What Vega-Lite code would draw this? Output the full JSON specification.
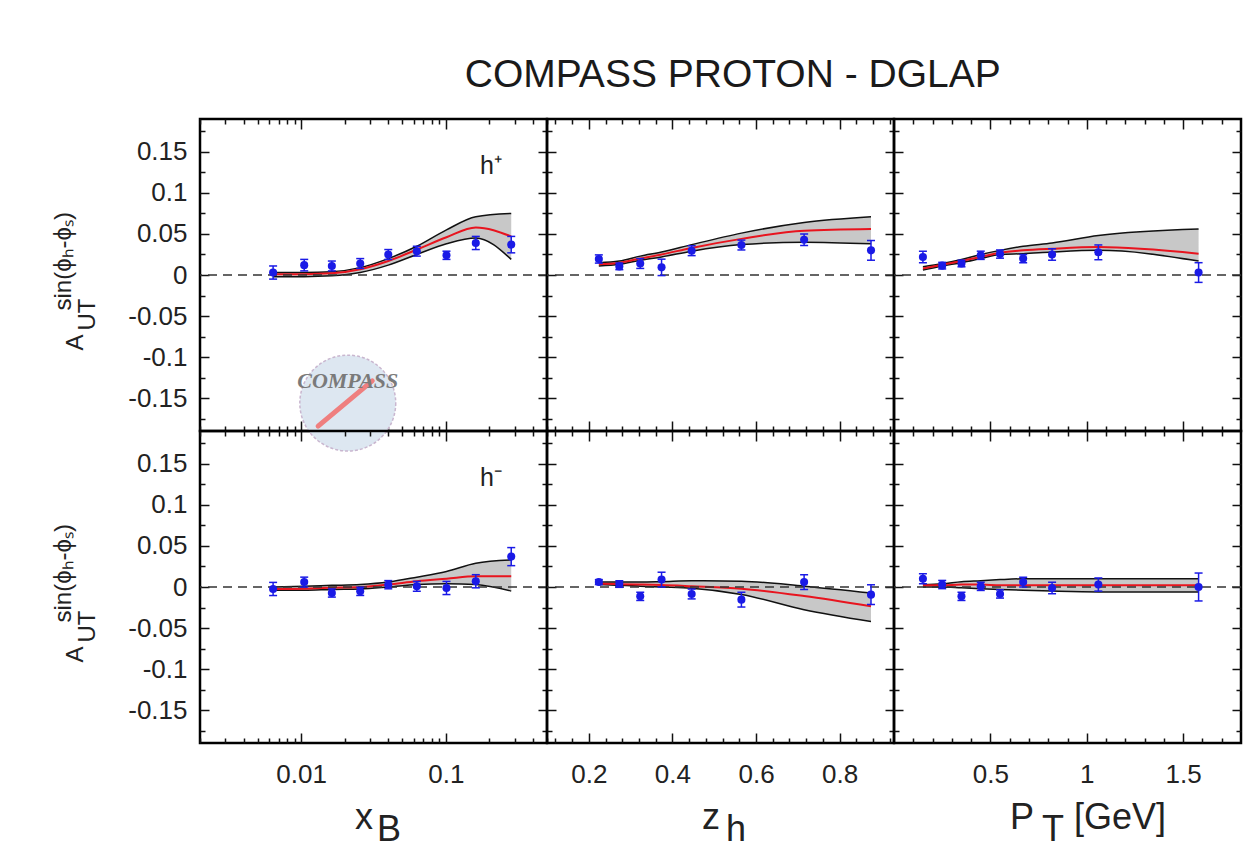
{
"$schema": "https://vega.github.io/schema/vega-lite/v6.json",
"background": "white",
"padding": {"left": 50, "top": 56, "right": 5, "bottom": 5},
"title": {"text": "COMPASS PROTON - DGLAP", "fontSize": 39, "font": "Liberation Sans", "fontWeight": "normal", "color": "#1a1a1a", "anchor": "middle", "offset": 22, "dx": 86},
"datasets": {
"th": [
{"p":1,"v":0.0064,"lo":-0.002,"m":0.001,"hi":0.003},
{"p":1,"v":0.0105,"lo":-0.002,"m":0.001,"hi":0.003},
{"p":1,"v":0.0163,"lo":-0.001,"m":0.002,"hi":0.004},
{"p":1,"v":0.0256,"lo":0.003,"m":0.007,"hi":0.009},
{"p":1,"v":0.040,"lo":0.012,"m":0.017,"hi":0.020},
{"p":1,"v":0.063,"lo":0.025,"m":0.031,"hi":0.035},
{"p":1,"v":0.101,"lo":0.038,"m":0.046,"hi":0.055},
{"p":1,"v":0.161,"lo":0.045,"m":0.058,"hi":0.071},
{"p":1,"v":0.283,"lo":0.019,"m":0.047,"hi":0.075},
{"p":2,"v":0.224,"lo":0.011,"m":0.013,"hi":0.015},
{"p":2,"v":0.273,"lo":0.013,"m":0.015,"hi":0.017},
{"p":2,"v":0.323,"lo":0.018,"m":0.020,"hi":0.023},
{"p":2,"v":0.374,"lo":0.022,"m":0.025,"hi":0.028},
{"p":2,"v":0.446,"lo":0.029,"m":0.033,"hi":0.037},
{"p":2,"v":0.565,"lo":0.037,"m":0.044,"hi":0.051},
{"p":2,"v":0.715,"lo":0.040,"m":0.054,"hi":0.064},
{"p":2,"v":0.875,"lo":0.038,"m":0.056,"hi":0.071},
{"p":3,"v":0.15,"lo":0.006,"m":0.008,"hi":0.010},
{"p":3,"v":0.25,"lo":0.011,"m":0.0126,"hi":0.014},
{"p":3,"v":0.35,"lo":0.015,"m":0.017,"hi":0.019},
{"p":3,"v":0.45,"lo":0.020,"m":0.022,"hi":0.025},
{"p":3,"v":0.55,"lo":0.025,"m":0.027,"hi":0.030},
{"p":3,"v":0.67,"lo":0.026,"m":0.030,"hi":0.035},
{"p":3,"v":0.82,"lo":0.028,"m":0.032,"hi":0.039},
{"p":3,"v":1.06,"lo":0.030,"m":0.034,"hi":0.048},
{"p":3,"v":1.58,"lo":0.017,"m":0.026,"hi":0.056},
{"p":4,"v":0.0064,"lo":-0.004,"m":-0.0024,"hi":0.000},
{"p":4,"v":0.0105,"lo":-0.004,"m":-0.002,"hi":0.001},
{"p":4,"v":0.0163,"lo":-0.003,"m":-0.001,"hi":0.002},
{"p":4,"v":0.0256,"lo":-0.0024,"m":0.000,"hi":0.003},
{"p":4,"v":0.040,"lo":0.000,"m":0.003,"hi":0.006},
{"p":4,"v":0.063,"lo":0.003,"m":0.007,"hi":0.012},
{"p":4,"v":0.101,"lo":0.004,"m":0.010,"hi":0.019},
{"p":4,"v":0.161,"lo":0.003,"m":0.013,"hi":0.029},
{"p":4,"v":0.283,"lo":-0.005,"m":0.013,"hi":0.033},
{"p":5,"v":0.224,"lo":0.003,"m":0.004,"hi":0.006},
{"p":5,"v":0.273,"lo":0.002,"m":0.0035,"hi":0.006},
{"p":5,"v":0.323,"lo":0.001,"m":0.003,"hi":0.006},
{"p":5,"v":0.374,"lo":0.000,"m":0.0025,"hi":0.0065},
{"p":5,"v":0.446,"lo":-0.0015,"m":0.001,"hi":0.0075},
{"p":5,"v":0.565,"lo":-0.009,"m":-0.002,"hi":0.007},
{"p":5,"v":0.715,"lo":-0.0276,"m":-0.011,"hi":0.001},
{"p":5,"v":0.875,"lo":-0.042,"m":-0.0235,"hi":-0.0073},
{"p":6,"v":0.15,"lo":0.000,"m":0.002,"hi":0.003},
{"p":6,"v":0.25,"lo":0.000,"m":0.002,"hi":0.004},
{"p":6,"v":0.35,"lo":-0.001,"m":0.003,"hi":0.0065},
{"p":6,"v":0.45,"lo":-0.002,"m":0.003,"hi":0.0077},
{"p":6,"v":0.55,"lo":-0.003,"m":0.002,"hi":0.009},
{"p":6,"v":0.67,"lo":-0.004,"m":0.002,"hi":0.010},
{"p":6,"v":0.82,"lo":-0.005,"m":0.002,"hi":0.010},
{"p":6,"v":1.06,"lo":-0.006,"m":0.002,"hi":0.010},
{"p":6,"v":1.58,"lo":-0.006,"m":0.002,"hi":0.010}
],
"pt": [
{"p":1,"v":0.0064,"a":0.003,"elo":-0.005,"ehi":0.011},
{"p":1,"v":0.0105,"a":0.012,"elo":0.005,"ehi":0.019},
{"p":1,"v":0.0163,"a":0.011,"elo":0.005,"ehi":0.017},
{"p":1,"v":0.0256,"a":0.014,"elo":0.008,"ehi":0.020},
{"p":1,"v":0.040,"a":0.025,"elo":0.019,"ehi":0.031},
{"p":1,"v":0.063,"a":0.029,"elo":0.023,"ehi":0.035},
{"p":1,"v":0.101,"a":0.024,"elo":0.019,"ehi":0.029},
{"p":1,"v":0.161,"a":0.039,"elo":0.031,"ehi":0.047},
{"p":1,"v":0.283,"a":0.037,"elo":0.027,"ehi":0.047},
{"p":2,"v":0.224,"a":0.0195,"elo":0.0145,"ehi":0.0245},
{"p":2,"v":0.273,"a":0.0105,"elo":0.0065,"ehi":0.0145},
{"p":2,"v":0.323,"a":0.014,"elo":0.008,"ehi":0.020},
{"p":2,"v":0.374,"a":0.0093,"elo":-0.0007,"ehi":0.0193},
{"p":2,"v":0.446,"a":0.0296,"elo":0.0236,"ehi":0.0356},
{"p":2,"v":0.565,"a":0.0365,"elo":0.0305,"ehi":0.0425},
{"p":2,"v":0.715,"a":0.043,"elo":0.036,"ehi":0.050},
{"p":2,"v":0.875,"a":0.030,"elo":0.018,"ehi":0.042},
{"p":3,"v":0.15,"a":0.022,"elo":0.015,"ehi":0.029},
{"p":3,"v":0.25,"a":0.0114,"elo":0.0074,"ehi":0.0154},
{"p":3,"v":0.35,"a":0.014,"elo":0.010,"ehi":0.018},
{"p":3,"v":0.45,"a":0.024,"elo":0.019,"ehi":0.029},
{"p":3,"v":0.55,"a":0.0255,"elo":0.0205,"ehi":0.0305},
{"p":3,"v":0.67,"a":0.020,"elo":0.015,"ehi":0.025},
{"p":3,"v":0.82,"a":0.025,"elo":0.018,"ehi":0.032},
{"p":3,"v":1.06,"a":0.0276,"elo":0.0186,"ehi":0.0366},
{"p":3,"v":1.58,"a":0.003,"elo":-0.009,"ehi":0.015},
{"p":4,"v":0.0064,"a":-0.0024,"elo":-0.0104,"ehi":0.0056},
{"p":4,"v":0.0105,"a":0.006,"elo":0.000,"ehi":0.012},
{"p":4,"v":0.0163,"a":-0.0073,"elo":-0.0123,"ehi":-0.0023},
{"p":4,"v":0.0256,"a":-0.0053,"elo":-0.0103,"ehi":-0.0003},
{"p":4,"v":0.040,"a":0.0028,"elo":-0.0022,"ehi":0.0078},
{"p":4,"v":0.063,"a":0.0008,"elo":-0.0052,"ehi":0.0068},
{"p":4,"v":0.101,"a":-0.0012,"elo":-0.0092,"ehi":0.0068},
{"p":4,"v":0.161,"a":0.007,"elo":-0.001,"ehi":0.015},
{"p":4,"v":0.283,"a":0.037,"elo":0.026,"ehi":0.048},
{"p":5,"v":0.224,"a":0.006,"elo":0.003,"ehi":0.009},
{"p":5,"v":0.273,"a":0.0036,"elo":-0.0004,"ehi":0.0076},
{"p":5,"v":0.323,"a":-0.0114,"elo":-0.0164,"ehi":-0.0064},
{"p":5,"v":0.374,"a":0.009,"elo":0.000,"ehi":0.018},
{"p":5,"v":0.446,"a":-0.0085,"elo":-0.0145,"ehi":-0.0025},
{"p":5,"v":0.565,"a":-0.0154,"elo":-0.0244,"ehi":-0.0064},
{"p":5,"v":0.715,"a":0.006,"elo":-0.003,"ehi":0.015},
{"p":5,"v":0.875,"a":-0.0093,"elo":-0.0213,"ehi":0.0027},
{"p":6,"v":0.15,"a":0.010,"elo":0.004,"ehi":0.016},
{"p":6,"v":0.25,"a":0.003,"elo":-0.002,"ehi":0.008},
{"p":6,"v":0.35,"a":-0.0114,"elo":-0.0164,"ehi":-0.0064},
{"p":6,"v":0.45,"a":0.0008,"elo":-0.0042,"ehi":0.0058},
{"p":6,"v":0.55,"a":-0.0085,"elo":-0.0135,"ehi":-0.0035},
{"p":6,"v":0.67,"a":0.006,"elo":0.000,"ehi":0.012},
{"p":6,"v":0.82,"a":-0.0012,"elo":-0.0082,"ehi":0.0058},
{"p":6,"v":1.06,"a":0.003,"elo":-0.005,"ehi":0.011},
{"p":6,"v":1.58,"a":0.000,"elo":-0.017,"ehi":0.017}
]
},
"columns": 3,
"spacing": 0,
"bounds": "flush",
"concat": [
{
"width": 347, "height": 312,
"resolve": {"axis": {"x": "independent", "y": "independent"}},
"layer": [
{"data": {"name": "th"}, "transform": [{"filter": "datum.p==1"}],
 "mark": {"type": "area", "color": "#c8c8c8", "opacity": 1, "interpolate": "monotone"},
 "encoding": {
  "x": {"field": "v", "type": "quantitative", "scale": {"type": "log", "domain": [0.002, 0.5], "nice": false},
        "axis": {"orient": "bottom", "values": [0.002,0.003,0.004,0.005,0.006,0.007,0.008,0.009,0.01,0.02,0.03,0.04,0.05,0.06,0.07,0.08,0.09,0.1,0.2,0.3,0.4,0.5], "tickSize": {"condition": {"test": "datum.value==0.01||datum.value==0.1", "value": -10}, "value": -5}, "labels": false, "title": null}},
  "y": {"field": "lo", "type": "quantitative", "scale": {"domain": [-0.19, 0.19], "nice": false, "zero": false},
        "axis": {"orient": "left", "values": [-0.175,-0.15,-0.125,-0.1,-0.075,-0.05,-0.025,0,0.025,0.05,0.075,0.1,0.125,0.15,0.175], "tickSize": {"condition": {"test": "abs(datum.value*20-round(datum.value*20))<0.001", "value": -9}, "value": -5}, "labelExpr": "abs(datum.value*20-round(datum.value*20))<0.001 ? replace(format(datum.value,'~g'),'\u2212','-') : ''", "labelPadding": 22, "title": ["\u200b\u00a0\u00a0\u00a0\u00a0\u00a0\u00a0sin(ϕₕ-ϕₛ)", "A", "\u200b\u00a0\u00a0\u00a0UT"], "titleFontSize": 24, "titleLineHeight": 12, "titleAlign": "left", "titleY": 231, "titlePadding": 28}},
  "y2": {"field": "hi"}}},
{"data": {"name": "th"}, "transform": [{"filter": "datum.p==1"}],
 "mark": {"type": "line", "color": "#111", "strokeWidth": 1.5, "interpolate": "monotone"},
 "encoding": {"x": {"field": "v", "type": "quantitative", "scale": {"type": "log", "domain": [0.002, 0.5], "nice": false}, "axis": null}, "y": {"field": "lo", "type": "quantitative", "axis": null}}},
{"data": {"name": "th"}, "transform": [{"filter": "datum.p==1"}],
 "mark": {"type": "line", "color": "#111", "strokeWidth": 1.5, "interpolate": "monotone"},
 "encoding": {"x": {"field": "v", "type": "quantitative", "scale": {"type": "log", "domain": [0.002, 0.5], "nice": false}, "axis": null}, "y": {"field": "hi", "type": "quantitative", "axis": null}}},
{"data": {"name": "th"}, "transform": [{"filter": "datum.p==1"}],
 "mark": {"type": "line", "color": "#e8141e", "strokeWidth": 2, "interpolate": "monotone"},
 "encoding": {"x": {"field": "v", "type": "quantitative", "scale": {"type": "log", "domain": [0.002, 0.5], "nice": false},
        "axis": {"orient": "top", "values": [0.002,0.003,0.004,0.005,0.006,0.007,0.008,0.009,0.01,0.02,0.03,0.04,0.05,0.06,0.07,0.08,0.09,0.1,0.2,0.3,0.4,0.5], "tickSize": {"condition": {"test": "datum.value==0.01||datum.value==0.1", "value": -10}, "value": -5}, "labels": false, "title": null}},
  "y": {"field": "m", "type": "quantitative", "axis": null}}},
{"data": {"values": [{}]},
 "mark": {"type": "rule", "color": "#333", "strokeDash": [9, 6], "strokeWidth": 1.5},
 "encoding": {"y": {"datum": 0, "type": "quantitative", "axis": {"orient": "right", "values": [-0.175,-0.15,-0.125,-0.1,-0.075,-0.05,-0.025,0,0.025,0.05,0.075,0.1,0.125,0.15,0.175], "tickSize": {"condition": {"test": "abs(datum.value*20-round(datum.value*20))<0.001", "value": -9}, "value": -5}, "labels": false, "title": null}}}},
{"data": {"name": "pt"}, "transform": [{"filter": "datum.p==1"}],
 "mark": {"type": "rule", "color": "#1a1ae6", "strokeWidth": 1.5},
 "encoding": {"x": {"field": "v", "type": "quantitative", "axis": null}, "y": {"field": "elo", "type": "quantitative", "axis": null}, "y2": {"field": "ehi"}}},
{"data": {"name": "pt"}, "transform": [{"filter": "datum.p==1"}],
 "mark": {"type": "tick", "orient": "horizontal", "size": 8, "thickness": 1.5, "color": "#1a1ae6", "opacity": 1},
 "encoding": {"x": {"field": "v", "type": "quantitative", "axis": null}, "y": {"field": "elo", "type": "quantitative", "axis": null}}},
{"data": {"name": "pt"}, "transform": [{"filter": "datum.p==1"}],
 "mark": {"type": "tick", "orient": "horizontal", "size": 8, "thickness": 1.5, "color": "#1a1ae6", "opacity": 1},
 "encoding": {"x": {"field": "v", "type": "quantitative", "axis": null}, "y": {"field": "ehi", "type": "quantitative", "axis": null}}},
{"data": {"name": "pt"}, "transform": [{"filter": "datum.p==1"}],
 "mark": {"type": "point", "filled": true, "size": 65, "color": "#1a1ae6", "opacity": 1},
 "encoding": {"x": {"field": "v", "type": "quantitative", "axis": null}, "y": {"field": "a", "type": "quantitative", "axis": null}}},
{"data": {"values": [{"t": "h⁺"}]},
 "mark": {"type": "text", "fontSize": 25, "font": "Liberation Sans", "color": "#222"},
 "encoding": {"text": {"field": "t"}, "x": {"datum": 0.205, "type": "quantitative", "axis": null}, "y": {"datum": 0.133, "type": "quantitative", "axis": null}}},
{"data": {"values": [{}]},
 "mark": {"type": "point", "shape": "circle", "size": 9200, "fill": "#dde7f1", "fillOpacity": 1, "stroke": "#c9b6cf", "strokeWidth": 1.5, "strokeDash": [3, 2], "opacity": 1},
 "encoding": {"x": {"datum": 0.021, "type": "quantitative", "axis": null}, "y": {"datum": -0.156, "type": "quantitative", "axis": null}}},
{"data": {"values": [{}]},
 "mark": {"type": "rule", "color": "#ef7f7f", "strokeWidth": 5, "strokeCap": "round"},
 "encoding": {"x": {"datum": 0.0131, "type": "quantitative", "axis": null}, "y": {"datum": -0.184, "type": "quantitative", "axis": null}, "x2": {"datum": 0.031}, "y2": {"datum": -0.129}}},
{"data": {"values": [{"t": "COMPASS"}]},
 "mark": {"type": "text", "fontSize": 22, "font": "Liberation Serif", "fontStyle": "italic", "fontWeight": "bold", "color": "#7a7a7a"},
 "encoding": {"text": {"field": "t"}, "x": {"datum": 0.021, "type": "quantitative", "axis": null}, "y": {"datum": -0.129, "type": "quantitative", "axis": null}}}
]
},
{
"width": 347, "height": 312,
"resolve": {"axis": {"x": "independent", "y": "independent"}},
"layer": [
{"data": {"name": "th"}, "transform": [{"filter": "datum.p==2"}],
 "mark": {"type": "area", "color": "#c8c8c8", "opacity": 1, "interpolate": "monotone"},
 "encoding": {
  "x": {"field": "v", "type": "quantitative", "scale": {"domain": [0.1, 0.93], "nice": false, "zero": false},
        "axis": {"orient": "bottom", "values": [0.12,0.16,0.2,0.24,0.28,0.32,0.36,0.4,0.44,0.48,0.52,0.56,0.6,0.64,0.68,0.72,0.76,0.8,0.84,0.88,0.92], "tickSize": {"condition": {"test": "indexof([0.2,0.4,0.6,0.8],datum.value)>=0", "value": -10}, "value": -5}, "labels": false, "title": null}},
  "y": {"field": "lo", "type": "quantitative", "scale": {"domain": [-0.19, 0.19], "nice": false, "zero": false},
        "axis": {"orient": "left", "values": [-0.175,-0.15,-0.125,-0.1,-0.075,-0.05,-0.025,0,0.025,0.05,0.075,0.1,0.125,0.15,0.175], "tickSize": {"condition": {"test": "abs(datum.value*20-round(datum.value*20))<0.001", "value": -9}, "value": -5}, "labels": false, "title": null}},
  "y2": {"field": "hi"}}},
{"data": {"name": "th"}, "transform": [{"filter": "datum.p==2"}],
 "mark": {"type": "line", "color": "#111", "strokeWidth": 1.5, "interpolate": "monotone"},
 "encoding": {"x": {"field": "v", "type": "quantitative", "axis": null}, "y": {"field": "lo", "type": "quantitative", "axis": null}}},
{"data": {"name": "th"}, "transform": [{"filter": "datum.p==2"}],
 "mark": {"type": "line", "color": "#111", "strokeWidth": 1.5, "interpolate": "monotone"},
 "encoding": {"x": {"field": "v", "type": "quantitative", "axis": null}, "y": {"field": "hi", "type": "quantitative", "axis": null}}},
{"data": {"name": "th"}, "transform": [{"filter": "datum.p==2"}],
 "mark": {"type": "line", "color": "#e8141e", "strokeWidth": 2, "interpolate": "monotone"},
 "encoding": {"x": {"field": "v", "type": "quantitative",
        "axis": {"orient": "top", "values": [0.12,0.16,0.2,0.24,0.28,0.32,0.36,0.4,0.44,0.48,0.52,0.56,0.6,0.64,0.68,0.72,0.76,0.8,0.84,0.88,0.92], "tickSize": {"condition": {"test": "indexof([0.2,0.4,0.6,0.8],datum.value)>=0", "value": -10}, "value": -5}, "labels": false, "title": null}},
  "y": {"field": "m", "type": "quantitative", "axis": null}}},
{"data": {"values": [{}]},
 "mark": {"type": "rule", "color": "#333", "strokeDash": [9, 6], "strokeWidth": 1.5},
 "encoding": {"y": {"datum": 0, "type": "quantitative", "axis": {"orient": "right", "values": [-0.175,-0.15,-0.125,-0.1,-0.075,-0.05,-0.025,0,0.025,0.05,0.075,0.1,0.125,0.15,0.175], "tickSize": {"condition": {"test": "abs(datum.value*20-round(datum.value*20))<0.001", "value": -9}, "value": -5}, "labels": false, "title": null}}}},
{"data": {"name": "pt"}, "transform": [{"filter": "datum.p==2"}],
 "mark": {"type": "rule", "color": "#1a1ae6", "strokeWidth": 1.5},
 "encoding": {"x": {"field": "v", "type": "quantitative", "axis": null}, "y": {"field": "elo", "type": "quantitative", "axis": null}, "y2": {"field": "ehi"}}},
{"data": {"name": "pt"}, "transform": [{"filter": "datum.p==2"}],
 "mark": {"type": "tick", "orient": "horizontal", "size": 8, "thickness": 1.5, "color": "#1a1ae6", "opacity": 1},
 "encoding": {"x": {"field": "v", "type": "quantitative", "axis": null}, "y": {"field": "elo", "type": "quantitative", "axis": null}}},
{"data": {"name": "pt"}, "transform": [{"filter": "datum.p==2"}],
 "mark": {"type": "tick", "orient": "horizontal", "size": 8, "thickness": 1.5, "color": "#1a1ae6", "opacity": 1},
 "encoding": {"x": {"field": "v", "type": "quantitative", "axis": null}, "y": {"field": "ehi", "type": "quantitative", "axis": null}}},
{"data": {"name": "pt"}, "transform": [{"filter": "datum.p==2"}],
 "mark": {"type": "point", "filled": true, "size": 65, "color": "#1a1ae6", "opacity": 1},
 "encoding": {"x": {"field": "v", "type": "quantitative", "axis": null}, "y": {"field": "a", "type": "quantitative", "axis": null}}}
]
},
{
"width": 347, "height": 312,
"resolve": {"axis": {"x": "independent", "y": "independent"}},
"layer": [
{"data": {"name": "th"}, "transform": [{"filter": "datum.p==3"}],
 "mark": {"type": "area", "color": "#c8c8c8", "opacity": 1, "interpolate": "monotone"},
 "encoding": {
  "x": {"field": "v", "type": "quantitative", "scale": {"domain": [0, 1.8], "nice": false, "zero": false},
        "axis": {"orient": "bottom", "values": [0.1,0.2,0.3,0.4,0.5,0.6,0.7,0.8,0.9,1,1.1,1.2,1.3,1.4,1.5,1.6,1.7], "tickSize": {"condition": {"test": "indexof([0.5,1,1.5],datum.value)>=0", "value": -10}, "value": -5}, "labels": false, "title": null}},
  "y": {"field": "lo", "type": "quantitative", "scale": {"domain": [-0.19, 0.19], "nice": false, "zero": false},
        "axis": {"orient": "left", "values": [-0.175,-0.15,-0.125,-0.1,-0.075,-0.05,-0.025,0,0.025,0.05,0.075,0.1,0.125,0.15,0.175], "tickSize": {"condition": {"test": "abs(datum.value*20-round(datum.value*20))<0.001", "value": -9}, "value": -5}, "labels": false, "title": null}},
  "y2": {"field": "hi"}}},
{"data": {"name": "th"}, "transform": [{"filter": "datum.p==3"}],
 "mark": {"type": "line", "color": "#111", "strokeWidth": 1.5, "interpolate": "monotone"},
 "encoding": {"x": {"field": "v", "type": "quantitative", "axis": null}, "y": {"field": "lo", "type": "quantitative", "axis": null}}},
{"data": {"name": "th"}, "transform": [{"filter": "datum.p==3"}],
 "mark": {"type": "line", "color": "#111", "strokeWidth": 1.5, "interpolate": "monotone"},
 "encoding": {"x": {"field": "v", "type": "quantitative", "axis": null}, "y": {"field": "hi", "type": "quantitative", "axis": null}}},
{"data": {"name": "th"}, "transform": [{"filter": "datum.p==3"}],
 "mark": {"type": "line", "color": "#e8141e", "strokeWidth": 2, "interpolate": "monotone"},
 "encoding": {"x": {"field": "v", "type": "quantitative",
        "axis": {"orient": "top", "values": [0.1,0.2,0.3,0.4,0.5,0.6,0.7,0.8,0.9,1,1.1,1.2,1.3,1.4,1.5,1.6,1.7], "tickSize": {"condition": {"test": "indexof([0.5,1,1.5],datum.value)>=0", "value": -10}, "value": -5}, "labels": false, "title": null}},
  "y": {"field": "m", "type": "quantitative", "axis": null}}},
{"data": {"values": [{}]},
 "mark": {"type": "rule", "color": "#333", "strokeDash": [9, 6], "strokeWidth": 1.5},
 "encoding": {"y": {"datum": 0, "type": "quantitative", "axis": {"orient": "right", "values": [-0.175,-0.15,-0.125,-0.1,-0.075,-0.05,-0.025,0,0.025,0.05,0.075,0.1,0.125,0.15,0.175], "tickSize": {"condition": {"test": "abs(datum.value*20-round(datum.value*20))<0.001", "value": -9}, "value": -5}, "labels": false, "title": null}}}},
{"data": {"name": "pt"}, "transform": [{"filter": "datum.p==3"}],
 "mark": {"type": "rule", "color": "#1a1ae6", "strokeWidth": 1.5},
 "encoding": {"x": {"field": "v", "type": "quantitative", "axis": null}, "y": {"field": "elo", "type": "quantitative", "axis": null}, "y2": {"field": "ehi"}}},
{"data": {"name": "pt"}, "transform": [{"filter": "datum.p==3"}],
 "mark": {"type": "tick", "orient": "horizontal", "size": 8, "thickness": 1.5, "color": "#1a1ae6", "opacity": 1},
 "encoding": {"x": {"field": "v", "type": "quantitative", "axis": null}, "y": {"field": "elo", "type": "quantitative", "axis": null}}},
{"data": {"name": "pt"}, "transform": [{"filter": "datum.p==3"}],
 "mark": {"type": "tick", "orient": "horizontal", "size": 8, "thickness": 1.5, "color": "#1a1ae6", "opacity": 1},
 "encoding": {"x": {"field": "v", "type": "quantitative", "axis": null}, "y": {"field": "ehi", "type": "quantitative", "axis": null}}},
{"data": {"name": "pt"}, "transform": [{"filter": "datum.p==3"}],
 "mark": {"type": "point", "filled": true, "size": 65, "color": "#1a1ae6", "opacity": 1},
 "encoding": {"x": {"field": "v", "type": "quantitative", "axis": null}, "y": {"field": "a", "type": "quantitative", "axis": null}}}
]
},
{
"width": 347, "height": 312,
"resolve": {"axis": {"x": "independent", "y": "independent"}},
"layer": [
{"data": {"name": "th"}, "transform": [{"filter": "datum.p==4"}],
 "mark": {"type": "area", "color": "#c8c8c8", "opacity": 1, "interpolate": "monotone"},
 "encoding": {
  "x": {"field": "v", "type": "quantitative", "scale": {"type": "log", "domain": [0.002, 0.5], "nice": false},
        "axis": {"orient": "bottom", "values": [0.002,0.003,0.004,0.005,0.006,0.007,0.008,0.009,0.01,0.02,0.03,0.04,0.05,0.06,0.07,0.08,0.09,0.1,0.2,0.3,0.4,0.5], "tickSize": {"condition": {"test": "datum.value==0.01||datum.value==0.1", "value": -10}, "value": -5}, "labelExpr": "datum.value==0.01 ? '0.01' : datum.value==0.1 ? '0.1' : ''", "labelPadding": 28, "labelOverlap": false, "title": ["x\u00a0\u00a0\u200b", "\u200b\u00a0\u00a0\u00a0B"], "titleFontSize": 36, "titleLineHeight": 12, "titlePadding": 8}},
  "y": {"field": "lo", "type": "quantitative", "scale": {"domain": [-0.19, 0.19], "nice": false, "zero": false},
        "axis": {"orient": "left", "values": [-0.175,-0.15,-0.125,-0.1,-0.075,-0.05,-0.025,0,0.025,0.05,0.075,0.1,0.125,0.15,0.175], "tickSize": {"condition": {"test": "abs(datum.value*20-round(datum.value*20))<0.001", "value": -9}, "value": -5}, "labelExpr": "abs(datum.value*20-round(datum.value*20))<0.001 ? replace(format(datum.value,'~g'),'\u2212','-') : ''", "labelPadding": 22, "title": ["\u200b\u00a0\u00a0\u00a0\u00a0\u00a0\u00a0sin(ϕₕ-ϕₛ)", "A", "\u200b\u00a0\u00a0\u00a0UT"], "titleFontSize": 24, "titleLineHeight": 12, "titleAlign": "left", "titleY": 231, "titlePadding": 28}},
  "y2": {"field": "hi"}}},
{"data": {"name": "th"}, "transform": [{"filter": "datum.p==4"}],
 "mark": {"type": "line", "color": "#111", "strokeWidth": 1.5, "interpolate": "monotone"},
 "encoding": {"x": {"field": "v", "type": "quantitative", "scale": {"type": "log", "domain": [0.002, 0.5], "nice": false}, "axis": null}, "y": {"field": "lo", "type": "quantitative", "axis": null}}},
{"data": {"name": "th"}, "transform": [{"filter": "datum.p==4"}],
 "mark": {"type": "line", "color": "#111", "strokeWidth": 1.5, "interpolate": "monotone"},
 "encoding": {"x": {"field": "v", "type": "quantitative", "scale": {"type": "log", "domain": [0.002, 0.5], "nice": false}, "axis": null}, "y": {"field": "hi", "type": "quantitative", "axis": null}}},
{"data": {"name": "th"}, "transform": [{"filter": "datum.p==4"}],
 "mark": {"type": "line", "color": "#e8141e", "strokeWidth": 2, "interpolate": "monotone"},
 "encoding": {"x": {"field": "v", "type": "quantitative", "scale": {"type": "log", "domain": [0.002, 0.5], "nice": false},
        "axis": {"orient": "top", "values": [0.002,0.003,0.004,0.005,0.006,0.007,0.008,0.009,0.01,0.02,0.03,0.04,0.05,0.06,0.07,0.08,0.09,0.1,0.2,0.3,0.4,0.5], "tickSize": {"condition": {"test": "datum.value==0.01||datum.value==0.1", "value": -10}, "value": -5}, "labels": false, "title": null}},
  "y": {"field": "m", "type": "quantitative", "axis": null}}},
{"data": {"values": [{}]},
 "mark": {"type": "rule", "color": "#333", "strokeDash": [9, 6], "strokeWidth": 1.5},
 "encoding": {"y": {"datum": 0, "type": "quantitative", "axis": {"orient": "right", "values": [-0.175,-0.15,-0.125,-0.1,-0.075,-0.05,-0.025,0,0.025,0.05,0.075,0.1,0.125,0.15,0.175], "tickSize": {"condition": {"test": "abs(datum.value*20-round(datum.value*20))<0.001", "value": -9}, "value": -5}, "labels": false, "title": null}}}},
{"data": {"name": "pt"}, "transform": [{"filter": "datum.p==4"}],
 "mark": {"type": "rule", "color": "#1a1ae6", "strokeWidth": 1.5},
 "encoding": {"x": {"field": "v", "type": "quantitative", "axis": null}, "y": {"field": "elo", "type": "quantitative", "axis": null}, "y2": {"field": "ehi"}}},
{"data": {"name": "pt"}, "transform": [{"filter": "datum.p==4"}],
 "mark": {"type": "tick", "orient": "horizontal", "size": 8, "thickness": 1.5, "color": "#1a1ae6", "opacity": 1},
 "encoding": {"x": {"field": "v", "type": "quantitative", "axis": null}, "y": {"field": "elo", "type": "quantitative", "axis": null}}},
{"data": {"name": "pt"}, "transform": [{"filter": "datum.p==4"}],
 "mark": {"type": "tick", "orient": "horizontal", "size": 8, "thickness": 1.5, "color": "#1a1ae6", "opacity": 1},
 "encoding": {"x": {"field": "v", "type": "quantitative", "axis": null}, "y": {"field": "ehi", "type": "quantitative", "axis": null}}},
{"data": {"name": "pt"}, "transform": [{"filter": "datum.p==4"}],
 "mark": {"type": "point", "filled": true, "size": 65, "color": "#1a1ae6", "opacity": 1},
 "encoding": {"x": {"field": "v", "type": "quantitative", "axis": null}, "y": {"field": "a", "type": "quantitative", "axis": null}}},
{"data": {"values": [{"t": "h⁻"}]},
 "mark": {"type": "text", "fontSize": 25, "font": "Liberation Sans", "color": "#222"},
 "encoding": {"text": {"field": "t"}, "x": {"datum": 0.205, "type": "quantitative", "axis": null}, "y": {"datum": 0.133, "type": "quantitative", "axis": null}}}
]
},
{
"width": 347, "height": 312,
"resolve": {"axis": {"x": "independent", "y": "independent"}},
"layer": [
{"data": {"name": "th"}, "transform": [{"filter": "datum.p==5"}],
 "mark": {"type": "area", "color": "#c8c8c8", "opacity": 1, "interpolate": "monotone"},
 "encoding": {
  "x": {"field": "v", "type": "quantitative", "scale": {"domain": [0.1, 0.93], "nice": false, "zero": false},
        "axis": {"orient": "bottom", "values": [0.12,0.16,0.2,0.24,0.28,0.32,0.36,0.4,0.44,0.48,0.52,0.56,0.6,0.64,0.68,0.72,0.76,0.8,0.84,0.88,0.92], "tickSize": {"condition": {"test": "indexof([0.2,0.4,0.6,0.8],datum.value)>=0", "value": -10}, "value": -5}, "labelExpr": "indexof([0.2,0.4,0.6,0.8],datum.value)>=0 ? format(datum.value,'.1f') : ''", "labelPadding": 28, "labelOverlap": false, "title": ["z\u00a0\u00a0\u200b", "\u200b\u00a0\u00a0\u00a0h"], "titleFontSize": 36, "titleLineHeight": 12, "titlePadding": 8}},
  "y": {"field": "lo", "type": "quantitative", "scale": {"domain": [-0.19, 0.19], "nice": false, "zero": false},
        "axis": {"orient": "left", "values": [-0.175,-0.15,-0.125,-0.1,-0.075,-0.05,-0.025,0,0.025,0.05,0.075,0.1,0.125,0.15,0.175], "tickSize": {"condition": {"test": "abs(datum.value*20-round(datum.value*20))<0.001", "value": -9}, "value": -5}, "labels": false, "title": null}},
  "y2": {"field": "hi"}}},
{"data": {"name": "th"}, "transform": [{"filter": "datum.p==5"}],
 "mark": {"type": "line", "color": "#111", "strokeWidth": 1.5, "interpolate": "monotone"},
 "encoding": {"x": {"field": "v", "type": "quantitative", "axis": null}, "y": {"field": "lo", "type": "quantitative", "axis": null}}},
{"data": {"name": "th"}, "transform": [{"filter": "datum.p==5"}],
 "mark": {"type": "line", "color": "#111", "strokeWidth": 1.5, "interpolate": "monotone"},
 "encoding": {"x": {"field": "v", "type": "quantitative", "axis": null}, "y": {"field": "hi", "type": "quantitative", "axis": null}}},
{"data": {"name": "th"}, "transform": [{"filter": "datum.p==5"}],
 "mark": {"type": "line", "color": "#e8141e", "strokeWidth": 2, "interpolate": "monotone"},
 "encoding": {"x": {"field": "v", "type": "quantitative",
        "axis": {"orient": "top", "values": [0.12,0.16,0.2,0.24,0.28,0.32,0.36,0.4,0.44,0.48,0.52,0.56,0.6,0.64,0.68,0.72,0.76,0.8,0.84,0.88,0.92], "tickSize": {"condition": {"test": "indexof([0.2,0.4,0.6,0.8],datum.value)>=0", "value": -10}, "value": -5}, "labels": false, "title": null}},
  "y": {"field": "m", "type": "quantitative", "axis": null}}},
{"data": {"values": [{}]},
 "mark": {"type": "rule", "color": "#333", "strokeDash": [9, 6], "strokeWidth": 1.5},
 "encoding": {"y": {"datum": 0, "type": "quantitative", "axis": {"orient": "right", "values": [-0.175,-0.15,-0.125,-0.1,-0.075,-0.05,-0.025,0,0.025,0.05,0.075,0.1,0.125,0.15,0.175], "tickSize": {"condition": {"test": "abs(datum.value*20-round(datum.value*20))<0.001", "value": -9}, "value": -5}, "labels": false, "title": null}}}},
{"data": {"name": "pt"}, "transform": [{"filter": "datum.p==5"}],
 "mark": {"type": "rule", "color": "#1a1ae6", "strokeWidth": 1.5},
 "encoding": {"x": {"field": "v", "type": "quantitative", "axis": null}, "y": {"field": "elo", "type": "quantitative", "axis": null}, "y2": {"field": "ehi"}}},
{"data": {"name": "pt"}, "transform": [{"filter": "datum.p==5"}],
 "mark": {"type": "tick", "orient": "horizontal", "size": 8, "thickness": 1.5, "color": "#1a1ae6", "opacity": 1},
 "encoding": {"x": {"field": "v", "type": "quantitative", "axis": null}, "y": {"field": "elo", "type": "quantitative", "axis": null}}},
{"data": {"name": "pt"}, "transform": [{"filter": "datum.p==5"}],
 "mark": {"type": "tick", "orient": "horizontal", "size": 8, "thickness": 1.5, "color": "#1a1ae6", "opacity": 1},
 "encoding": {"x": {"field": "v", "type": "quantitative", "axis": null}, "y": {"field": "ehi", "type": "quantitative", "axis": null}}},
{"data": {"name": "pt"}, "transform": [{"filter": "datum.p==5"}],
 "mark": {"type": "point", "filled": true, "size": 65, "color": "#1a1ae6", "opacity": 1},
 "encoding": {"x": {"field": "v", "type": "quantitative", "axis": null}, "y": {"field": "a", "type": "quantitative", "axis": null}}}
]
},
{
"width": 347, "height": 312,
"resolve": {"axis": {"x": "independent", "y": "independent"}},
"layer": [
{"data": {"name": "th"}, "transform": [{"filter": "datum.p==6"}],
 "mark": {"type": "area", "color": "#c8c8c8", "opacity": 1, "interpolate": "monotone"},
 "encoding": {
  "x": {"field": "v", "type": "quantitative", "scale": {"domain": [0, 1.8], "nice": false, "zero": false},
        "axis": {"orient": "bottom", "values": [0.1,0.2,0.3,0.4,0.5,0.6,0.7,0.8,0.9,1,1.1,1.2,1.3,1.4,1.5,1.6,1.7], "tickSize": {"condition": {"test": "indexof([0.5,1,1.5],datum.value)>=0", "value": -10}, "value": -5}, "labelExpr": "indexof([0.5,1,1.5],datum.value)>=0 ? format(datum.value,'~g') : ''", "labelPadding": 28, "labelOverlap": false, "title": ["\u200b\u00a0\u00a0\u00a0\u00a0P\u00a0\u00a0\u00a0\u00a0[GeV]", "\u200b\u00a0\u00a0\u00a0\u00a0T\u00a0\u00a0\u00a0\u00a0\u00a0\u00a0\u00a0\u200b"], "titleFontSize": 36, "titleLineHeight": 12, "titlePadding": 8}},
  "y": {"field": "lo", "type": "quantitative", "scale": {"domain": [-0.19, 0.19], "nice": false, "zero": false},
        "axis": {"orient": "left", "values": [-0.175,-0.15,-0.125,-0.1,-0.075,-0.05,-0.025,0,0.025,0.05,0.075,0.1,0.125,0.15,0.175], "tickSize": {"condition": {"test": "abs(datum.value*20-round(datum.value*20))<0.001", "value": -9}, "value": -5}, "labels": false, "title": null}},
  "y2": {"field": "hi"}}},
{"data": {"name": "th"}, "transform": [{"filter": "datum.p==6"}],
 "mark": {"type": "line", "color": "#111", "strokeWidth": 1.5, "interpolate": "monotone"},
 "encoding": {"x": {"field": "v", "type": "quantitative", "axis": null}, "y": {"field": "lo", "type": "quantitative", "axis": null}}},
{"data": {"name": "th"}, "transform": [{"filter": "datum.p==6"}],
 "mark": {"type": "line", "color": "#111", "strokeWidth": 1.5, "interpolate": "monotone"},
 "encoding": {"x": {"field": "v", "type": "quantitative", "axis": null}, "y": {"field": "hi", "type": "quantitative", "axis": null}}},
{"data": {"name": "th"}, "transform": [{"filter": "datum.p==6"}],
 "mark": {"type": "line", "color": "#e8141e", "strokeWidth": 2, "interpolate": "monotone"},
 "encoding": {"x": {"field": "v", "type": "quantitative",
        "axis": {"orient": "top", "values": [0.1,0.2,0.3,0.4,0.5,0.6,0.7,0.8,0.9,1,1.1,1.2,1.3,1.4,1.5,1.6,1.7], "tickSize": {"condition": {"test": "indexof([0.5,1,1.5],datum.value)>=0", "value": -10}, "value": -5}, "labels": false, "title": null}},
  "y": {"field": "m", "type": "quantitative", "axis": null}}},
{"data": {"values": [{}]},
 "mark": {"type": "rule", "color": "#333", "strokeDash": [9, 6], "strokeWidth": 1.5},
 "encoding": {"y": {"datum": 0, "type": "quantitative", "axis": {"orient": "right", "values": [-0.175,-0.15,-0.125,-0.1,-0.075,-0.05,-0.025,0,0.025,0.05,0.075,0.1,0.125,0.15,0.175], "tickSize": {"condition": {"test": "abs(datum.value*20-round(datum.value*20))<0.001", "value": -9}, "value": -5}, "labels": false, "title": null}}}},
{"data": {"name": "pt"}, "transform": [{"filter": "datum.p==6"}],
 "mark": {"type": "rule", "color": "#1a1ae6", "strokeWidth": 1.5},
 "encoding": {"x": {"field": "v", "type": "quantitative", "axis": null}, "y": {"field": "elo", "type": "quantitative", "axis": null}, "y2": {"field": "ehi"}}},
{"data": {"name": "pt"}, "transform": [{"filter": "datum.p==6"}],
 "mark": {"type": "tick", "orient": "horizontal", "size": 8, "thickness": 1.5, "color": "#1a1ae6", "opacity": 1},
 "encoding": {"x": {"field": "v", "type": "quantitative", "axis": null}, "y": {"field": "elo", "type": "quantitative", "axis": null}}},
{"data": {"name": "pt"}, "transform": [{"filter": "datum.p==6"}],
 "mark": {"type": "tick", "orient": "horizontal", "size": 8, "thickness": 1.5, "color": "#1a1ae6", "opacity": 1},
 "encoding": {"x": {"field": "v", "type": "quantitative", "axis": null}, "y": {"field": "ehi", "type": "quantitative", "axis": null}}},
{"data": {"name": "pt"}, "transform": [{"filter": "datum.p==6"}],
 "mark": {"type": "point", "filled": true, "size": 65, "color": "#1a1ae6", "opacity": 1},
 "encoding": {"x": {"field": "v", "type": "quantitative", "axis": null}, "y": {"field": "a", "type": "quantitative", "axis": null}}}
]
}
],
"config": {
 "view": {"stroke": "#000", "strokeWidth": 2.5},
 "axis": {"domain": false, "grid": false, "tickColor": "#111", "tickWidth": 1.5, "labelFont": "Liberation Sans", "labelFontSize": 26, "labelColor": "#222", "titleFont": "Liberation Sans", "titleFontWeight": "normal", "titleColor": "#222"}
}
}
